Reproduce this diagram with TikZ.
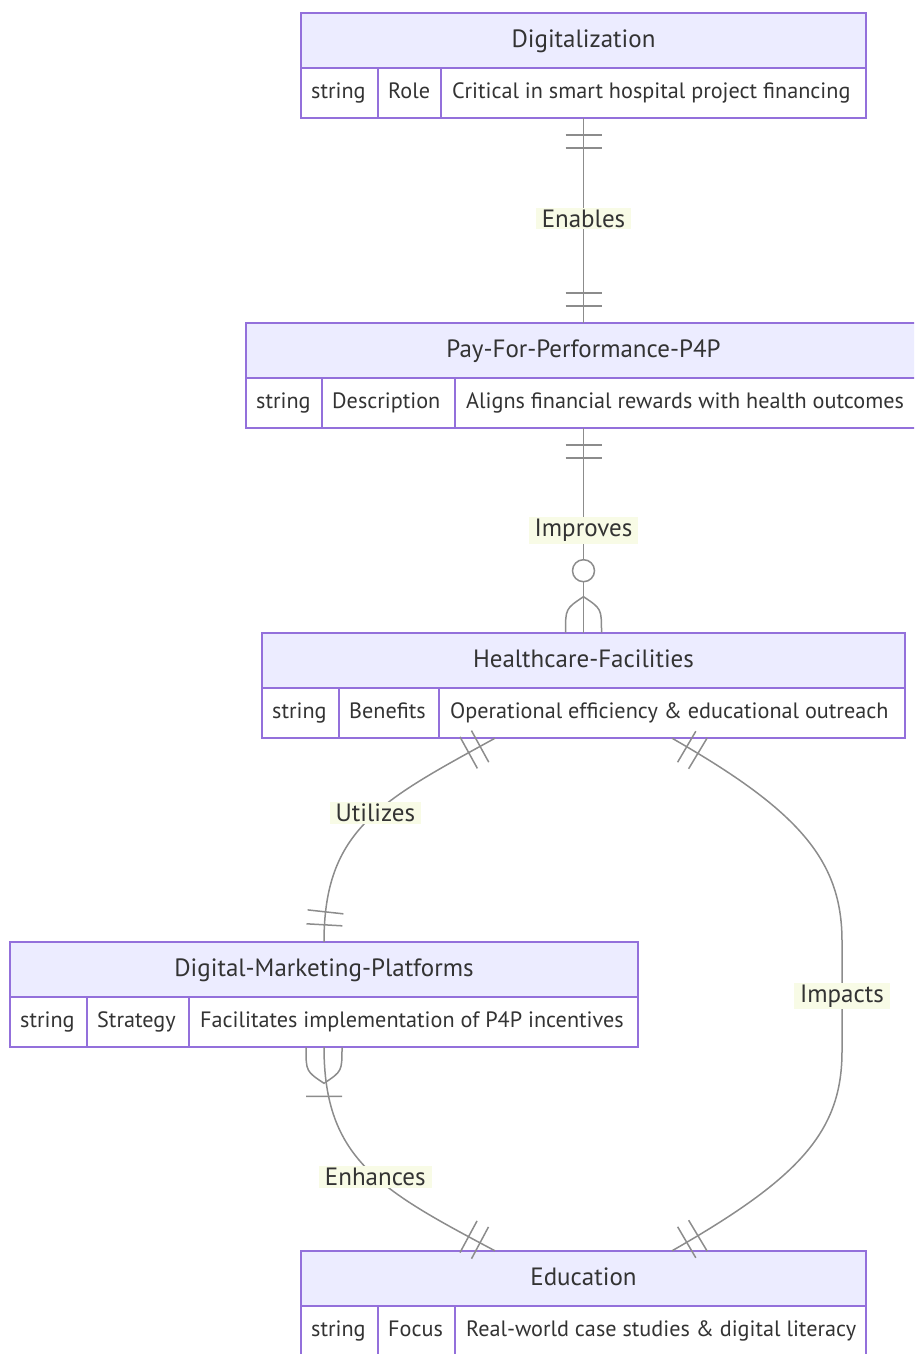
\documentclass[tikz,border=0pt]{standalone}
\usepackage{fontspec}
\setmainfont{PT Sans}
\usetikzlibrary{decorations.markings,fit}

\definecolor{entborder}{HTML}{9370DB}
\definecolor{hdrfill}{HTML}{ECECFF}
\definecolor{relline}{HTML}{8C8C8C}
\definecolor{txt}{HTML}{333333}
\definecolor{lblbg}{HTML}{F8FBE6}

\tikzset{
  entarea/.style={inner sep=0pt,fill=white},
  entframe/.style={draw=entborder,line width=1.8pt},
  titletext/.style={font=\fontsize{25}{28}\selectfont,text=txt,anchor=base,inner sep=0pt},
  celltext/.style={font=\fontsize{22.2}{26}\selectfont,text=txt,anchor=base west,inner sep=0pt},
  rel/.style={draw=relline,line width=1.5pt},
  relmark/.style={draw=relline,line width=1.5pt},
  rellabel/.style={fill=lblbg,text=txt,font=\fontsize{25}{28}\selectfont,inner xsep=6pt,inner ysep=2pt},
  % exactly one (two bars) at the start / end of a relation line
  one start/.style={postaction={decorate,decoration={markings,
      mark=at position 17pt with {\draw[relmark] (0pt,-18pt) -- (0pt,18pt);},
      mark=at position 30pt with {\draw[relmark] (0pt,-18pt) -- (0pt,18pt);}}}},
  one end/.style={postaction={decorate,decoration={markings,
      mark=at position -17pt with {\draw[relmark] (0pt,-18pt) -- (0pt,18pt);},
      mark=at position -30pt with {\draw[relmark] (0pt,-18pt) -- (0pt,18pt);}}}},
  % zero or more at the end of a relation line
  many end/.style={postaction={decorate,decoration={markings,
      mark=at position -0.1pt with {
        \draw[relmark] (0pt,18pt) .. controls (-24pt,18pt) .. (-36pt,0pt)
                       .. controls (-24pt,-18pt) .. (0pt,-18pt);
        \draw[relmark,fill=white] (-62pt,0pt) circle (11pt);}}}},
  % one or more at the start of a relation line
  somemany start/.style={postaction={decorate,decoration={markings,
      mark=at position 0.1pt with {
        \draw[relmark] (0pt,18pt) .. controls (24pt,18pt) .. (36pt,0pt)
                       .. controls (24pt,-18pt) .. (0pt,-18pt);
        \draw[relmark] (49pt,-18pt) -- (49pt,18pt);}}}},
}

% entity table: name, left, top, right, first divider, second divider, title, key, value
\newcommand\erentity[9]{%
  \node[entarea,fit={(#2,#3) (#4,#3+105)}] (#1) {};
  \fill[hdrfill] (#1.north west) rectangle ([yshift=-55pt]#1.north east);
  \draw[entframe] ([yshift=-55pt]#1.north west) -- ([yshift=-55pt]#1.north east);
  \draw[entframe] (#5,#3+55) -- (#5,#3+105);
  \draw[entframe] (#6,#3+55) -- (#6,#3+105);
  \draw[entframe] (#1.north west) rectangle (#1.south east);
  \node[titletext] (#1-title) at ([yshift=-34.5pt]#1.north) {#7};
  \node[celltext] (#1-type) at (#2+10,#3+85.5) {string};
  \node[celltext] (#1-key) at (#5+10,#3+85.5) {#8};
  \node[celltext] (#1-val) at (#6+11,#3+85.5) {#9};
}

\begin{document}
\begin{tikzpicture}[x=1pt,y=-1pt]
\useasboundingbox (0,0) rectangle (914,1354);
\clip (0,0) rectangle (914,1354);

\erentity{dig}{301}{13}{866}{378}{441}{Digitalization}{Role}{Critical in smart hospital project financing}
\erentity{pfp}{246}{323}{921}{322}{455}{Pay-For-Performance-P4P}{Description}{Aligns financial rewards with health outcomes}
\erentity{hcf}{262}{633}{905}{339}{439}{Healthcare-Facilities}{Benefits}{Operational efficiency \& educational outreach}
\erentity{dmp}{10}{942}{638}{87}{189}{Digital-Marketing-Platforms}{Strategy}{Facilitates implementation of P4P incentives}
\erentity{edu}{301}{1251}{866}{378}{455}{Education}{Focus}{Real-world case studies \& digital literacy}

% relations
\draw[rel,one start,one end] (dig.south) -- node[rellabel,pos=0.49] (l-enables) {Enables} (pfp.north);
\draw[rel,one start,many end] (pfp.south) -- node[rellabel] (l-improves) {Improves} (hcf.north);
\draw[rel,one start,one end] ([xshift=-88.5pt]hcf.south)
  .. controls +(-115,63) and +(0,-112) .. node[rellabel,pos=0.45] (l-utilizes) {Utilizes} (dmp.north);
\draw[rel,somemany start,one end] (dmp.south)
  .. controls +(0,112) and +(-115,-61) .. node[rellabel,pos=0.55] (l-enhances) {Enhances} ([xshift=-88.5pt]edu.north);
\draw[rel,one start,one end] ([xshift=88.5pt]hcf.south)
  .. controls +(128,73) and +(0,-80) .. ++(170,203)
  -- node[rellabel] (l-impacts) {Impacts} ++(0,110)
  .. controls +(0,80) and +(128,-73) .. ([xshift=88.5pt]edu.north);
\end{tikzpicture}
\end{document}
